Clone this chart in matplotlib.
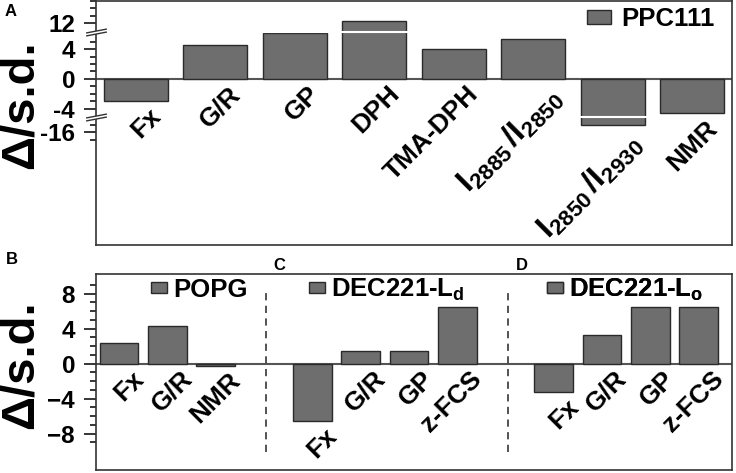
import numpy as np
import matplotlib
matplotlib.use('Agg')
import matplotlib.pyplot as plt
from matplotlib.path import Path
from matplotlib import transforms
from matplotlib.ticker import FixedLocator, NullFormatter

plt.rcParams['font.family'] = ['Liberation Sans', 'DejaVu Sans']
plt.rcParams['font.weight'] = 'bold'
plt.rcParams['mathtext.fontset'] = 'custom'
plt.rcParams['mathtext.rm'] = 'Liberation Sans:bold'
plt.rcParams['mathtext.bf'] = 'Liberation Sans:bold'
plt.rcParams['mathtext.it'] = 'Liberation Sans:bold'

# ---------------- data ----------------
a_labels = ['Fx', 'G/R', 'GP', 'DPH', 'TMA-DPH',
            r'$\mathbf{I_{2885}\,/I_{2850}}$', r'$\mathbf{I_{2850}\,/I_{2930}}$', 'NMR']
a_values = [-3.0, 4.55, 6.2, 12.35, 4.0, 5.4, -15.05, -4.6]
a_series = 'PPC111'
a_yticks = [12, 4, 0, -4, -16]
a_yminor = [15, 14, 13, 5, 3, 2, 1, -1, -2, -3, -15, -17]

b_labels = ['Fx', 'G/R', 'NMR']
b_values = [2.4, 4.35, -0.25]
c_labels = ['Fx', 'G/R', 'GP', 'z-FCS']
c_values = [-6.6, 1.5, 1.5, 6.45]
d_labels = ['Fx', 'G/R', 'GP', 'z-FCS']
d_values = [-3.2, 3.3, 6.45, 6.45]
group_names = ['POPG', r'DEC221-L$_\mathbf{d}$', r'DEC221-L$_\mathbf{o}$']
bottom_yticks = [8, 4, 0, -4, -8]
bottom_yminor = [9, 7, 6, 5, 3, 2, 1, -1, -2, -3, -5, -6, -7, -9]

# ---------------- style ----------------
BAR = '#6e6e6e'
EDGE = '#2a2a2a'
SPINE = '#333333'
FS_TICK = 17.5
FS_LAB = 19
FS_LAB_MATH = 23
FS_LEG = 18.5

# broken-axis scale for panel A
REAL = [-1000.0, -13.9, -5.1, 6.3, 10.8, 1000.0]
DISP = [-1000.0 + 8.79, -5.11, -5.1, 6.3, 6.31, 1000.0 - 4.49]
def fwd(y):
    return np.interp(np.asarray(y, dtype=float), REAL, DISP)
def inv(d):
    return np.interp(np.asarray(d, dtype=float), DISP, REAL)

fig = plt.figure(figsize=(7.36, 4.73), dpi=100)
W, H = 736.0, 473.0
axA = fig.add_axes([96 / W, 228 / H, 636 / W, 244 / H])
axB = fig.add_axes([96 / W, 3 / H, 636 / W, 196 / H])

def style_axes(ax):
    for s in ax.spines.values():
        s.set_color(SPINE)
        s.set_linewidth(1.2)
    ax.set_xticks([])
    ax.tick_params(axis='y', which='major', direction='out', length=8.6, width=1.1,
                   pad=6.5, labelsize=FS_TICK, colors='black')
    ax.tick_params(axis='y', which='minor', direction='out', length=4.3, width=1.1)
    for t in ax.get_yticklabels():
        t.set_fontweight('bold')

def add_labels(ax, xs, vals, labels):
    for x, v, lab in zip(xs, vals, labels):
        fs = FS_LAB_MATH if lab.startswith('$') else FS_LAB
        ax.annotate(lab, xy=(x, min(v, 0)), xytext=(9, -2), textcoords='offset points',
                    rotation=45, ha='right', va='top', rotation_mode='anchor',
                    fontsize=fs, fontweight='bold')

# ---------------- panel A ----------------
axA.set_yscale('function', functions=(fwd, inv))
xa = np.arange(len(a_values))
axA.axhline(0, color='#555555', lw=1.5, zorder=0.5)
barsA = axA.bar(xa, a_values, width=0.8, color=BAR, edgecolor=EDGE, linewidth=1.0, zorder=1)
axA.axhline(6.3, color='white', lw=1.5, zorder=1.5)
axA.axhline(-5.1, color='white', lw=1.5, zorder=1.5)
axA.set_xlim(-0.5, 7.5)
axA.set_ylim(-31.2, 15.0)
axA.yaxis.set_major_locator(FixedLocator(a_yticks))
axA.yaxis.set_minor_locator(FixedLocator(a_yminor))
axA.yaxis.set_minor_formatter(NullFormatter())
axA.set_yticklabels([str(t) for t in a_yticks])
style_axes(axA)
add_labels(axA, xa, a_values, a_labels)
axA.legend([barsA], [a_series], loc='center left', bbox_to_anchor=(0.772, 0.926),
           frameon=False, prop={'size': FS_LEG, 'weight': 'bold'}, handlelength=0.92,
           handleheight=0.48, handletextpad=0.4, borderpad=0, borderaxespad=0)

# axis break marks
trans = transforms.blended_transform_factory(axA.transAxes, axA.transData)
poly = Path([(-10.5, -3.5), (10.5, 0.5), (10.5, 3.5), (-10.5, -0.5), (-10.5, -3.5)],
            [Path.MOVETO, Path.LINETO, Path.LINETO, Path.LINETO, Path.CLOSEPOLY])
lines = Path([(-10.5, -3.5), (10.5, 0.5), (-10.5, -0.5), (10.5, 3.5)],
             [Path.MOVETO, Path.LINETO, Path.MOVETO, Path.LINETO])
for yb in (6.3, -5.1):
    axA.plot([0], [yb], marker=poly, ms=15, mfc='white', mec='none', ls='none',
             transform=trans, clip_on=False, zorder=5)
    axA.plot([0], [yb], marker=lines, ms=15, mfc='none', mec=SPINE, mew=1.0, ls='none',
             transform=trans, clip_on=False, zorder=6)

# ---------------- panels B, C, D ----------------
groups = [(b_labels, b_values), (c_labels, c_values), (d_labels, d_values)]
axB.axhline(0, color='#555555', lw=1.5, zorder=0.5)
start = 0
bar_sets = []
separators = []
for gi, (labs, vals) in enumerate(groups):
    xs = start + np.arange(len(vals))
    bs = axB.bar(xs, vals, width=0.8, color=BAR, edgecolor=EDGE, linewidth=1.0, zorder=1)
    bar_sets.append(bs)
    add_labels(axB, xs, vals, labs)
    start = xs[-1] + 2
    if gi < len(groups) - 1:
        separators.append(xs[-1] + 1.05)
axB.vlines(separators, -10.1, 8.1, colors='#444444', linestyles=(0, (4, 3)), lw=1.3)
axB.set_xlim(-0.48, 12.69)
axB.set_ylim(-12.15, 10.25)
axB.yaxis.set_major_locator(FixedLocator(bottom_yticks))
axB.yaxis.set_minor_locator(FixedLocator(bottom_yminor))
axB.yaxis.set_minor_formatter(NullFormatter())
style_axes(axB)

leg_x = [0.0865, 0.335, 0.7086]
for bs, name, lx in zip(bar_sets, group_names, leg_x):
    leg = axB.legend([bs], [name], loc='center left', bbox_to_anchor=(lx, 0.918),
                     frameon=False, prop={'size': FS_LEG, 'weight': 'bold'},
                     handlelength=0.62, handleheight=0.27, handletextpad=0.23,
                     borderpad=0, borderaxespad=0)
    axB.add_artist(leg)

# ---------------- figure texts ----------------
for yc in (105, 365):
    fig.text(21 / W, 1 - yc / H, 'Δ/s.d.', rotation=90, ha='center', va='center',
             fontsize=34, fontweight='bold')
for letter, px, py in [('A', 11, 12), ('B', 12, 260), ('C', 279, 265), ('D', 522, 265)]:
    fig.text(px / W, 1 - py / H, letter, ha='center', va='center', fontsize=12,
             fontweight='bold')

fig.savefig('out.png', dpi=100)
